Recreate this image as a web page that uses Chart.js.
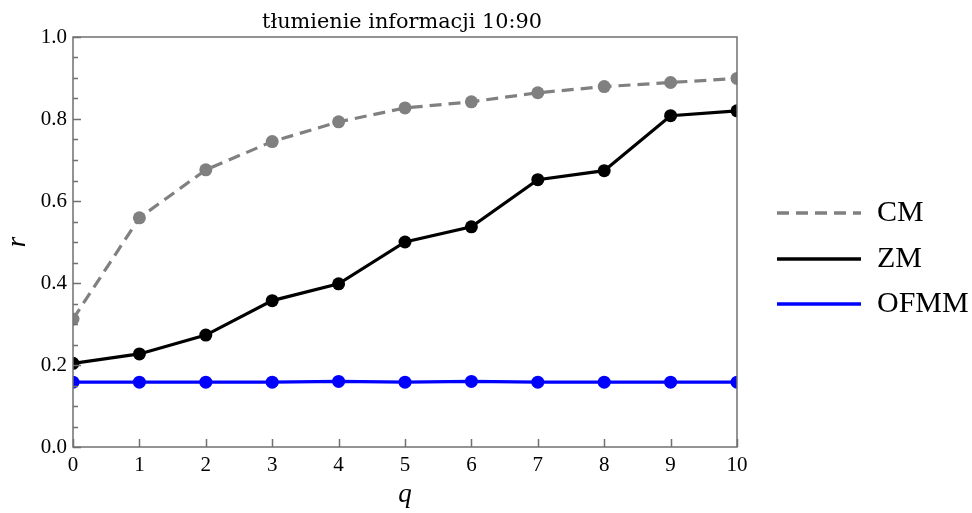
<!DOCTYPE html>
<html><head><meta charset="utf-8">
<script src="https://cdn.jsdelivr.net/npm/chart.js@4.4.1/dist/chart.umd.min.js"></script>
<style>html,body{margin:0;padding:0;background:#fff}#wrap{width:972px;height:513px}</style>
</head><body><div id="wrap"><canvas id="c"></canvas></div>
<script>
const categories = [0,1,2,3,4,5,6,7,8,9,10];
const cmValues   = [0.312,0.559,0.676,0.745,0.793,0.827,0.842,0.864,0.879,0.889,0.899];
const zmValues   = [0.204,0.227,0.273,0.357,0.398,0.500,0.537,0.652,0.674,0.808,0.820];
const ofmmValues = [0.158,0.158,0.158,0.158,0.160,0.158,0.160,0.158,0.158,0.158,0.158];
const yTicks = [0.0,0.2,0.4,0.6,0.8,1.0];
const seriesLabels = ['CM','ZM','OFMM'];
const titleText = 'tłumienie informacji 10:90';
const FONT = '"Liberation Serif", "DejaVu Serif", serif';
const TFONT = '"DejaVu Serif", serif';
const AXIS = '#707070';

function pts(vals){return categories.map((c,i)=>({x:c,y:vals[i]}));}

const overlay = {
  id:'overlay',
  afterDraw(chart){
    const ctx = chart.ctx, a = chart.chartArea;
    const xs = chart.scales.x, ys = chart.scales.y;
    ctx.save();
    ctx.strokeStyle = AXIS; ctx.lineWidth = 1.5;
    ctx.strokeRect(a.left, a.top, a.right-a.left, a.bottom-a.top);
    ctx.beginPath();
    for (let v=0; v<=1.0001; v+=0.05){
      const y = Math.round(ys.getPixelForValue(v))+0.5;
      const major = Math.abs(v*5-Math.round(v*5))<1e-6;
      ctx.moveTo(a.left, y); ctx.lineTo(a.left+(major?8:5), y);
    }
    categories.forEach(c=>{
      const x = Math.round(xs.getPixelForValue(c))+0.5;
      ctx.moveTo(x, a.bottom); ctx.lineTo(x, a.bottom-8);
    });
    ctx.stroke();
    // title
    ctx.fillStyle='#000';
    ctx.font = '20.8px '+TFONT; ctx.textAlign='center'; ctx.textBaseline='alphabetic';
    ctx.fillText(titleText, 402, 28);
    // axis titles
    ctx.font = 'italic 27px '+FONT;
    ctx.fillText('q', (a.left+a.right)/2, 502);
    ctx.save(); ctx.translate(25, (a.top+a.bottom)/2); ctx.rotate(-Math.PI/2);
    ctx.fillText('r', 0, 0); ctx.restore();
    // legend
    const ly = [213,259,304];
    chart.data.datasets.forEach((ds,i)=>{
      ctx.save();
      ctx.strokeStyle = ds.borderColor; ctx.lineWidth = 3.5;
      ctx.setLineDash(ds.borderDash||[]);
      ctx.beginPath(); ctx.moveTo(777, ly[i]); ctx.lineTo(861, ly[i]); ctx.stroke();
      ctx.restore();
      ctx.fillStyle='#000'; ctx.font='30px '+FONT; ctx.textAlign='left'; ctx.textBaseline='middle';
      ctx.fillText(ds.label, 877, ly[i]);
    });
    ctx.restore();
  }
};

new Chart(document.getElementById('c'), {
  type:'line',
  data:{ datasets:[
    {label:seriesLabels[0], data:pts(cmValues), borderColor:'#808080', backgroundColor:'#808080', borderDash:[12,7], borderWidth:3.2, pointRadius:6.5, pointBorderWidth:0, pointHoverRadius:6.5},
    {label:seriesLabels[1], data:pts(zmValues), borderColor:'#000000', backgroundColor:'#000000', borderWidth:3.2, pointRadius:6.5, pointBorderWidth:0, pointHoverRadius:6.5},
    {label:seriesLabels[2], data:pts(ofmmValues), borderColor:'#0000ff', backgroundColor:'#0000ff', borderWidth:3.2, pointRadius:6.5, pointBorderWidth:0, pointHoverRadius:6.5}
  ]},
  options:{
    responsive:true, maintainAspectRatio:false, animation:false,
    layout:{padding:{top:37,right:235,left:0,bottom:0}},
    plugins:{legend:{display:false}, title:{display:false}, tooltip:{enabled:false}},
    elements:{line:{tension:0}},
    scales:{
      x:{type:'linear', min:0, max:10, grid:{display:false, drawTicks:false}, border:{display:false},
         afterFit(s){s.height=66;},
         afterBuildTicks(s){s.ticks = categories.map(v=>({value:v}));},
         ticks:{padding:6, color:'#000', font:{family:FONT, size:21}, callback:v=>String(v), maxRotation:0, autoSkip:false}},
      y:{type:'linear', min:0, max:1, grid:{display:false, drawTicks:false}, border:{display:false},
         afterFit(s){s.width=73;},
         afterBuildTicks(s){s.ticks = yTicks.map(v=>({value:v}));},
         ticks:{padding:6, color:'#000', font:{family:FONT, size:21}, callback:v=>v.toFixed(1)}}
    }
  },
  plugins:[overlay]
});
</script></body></html>
